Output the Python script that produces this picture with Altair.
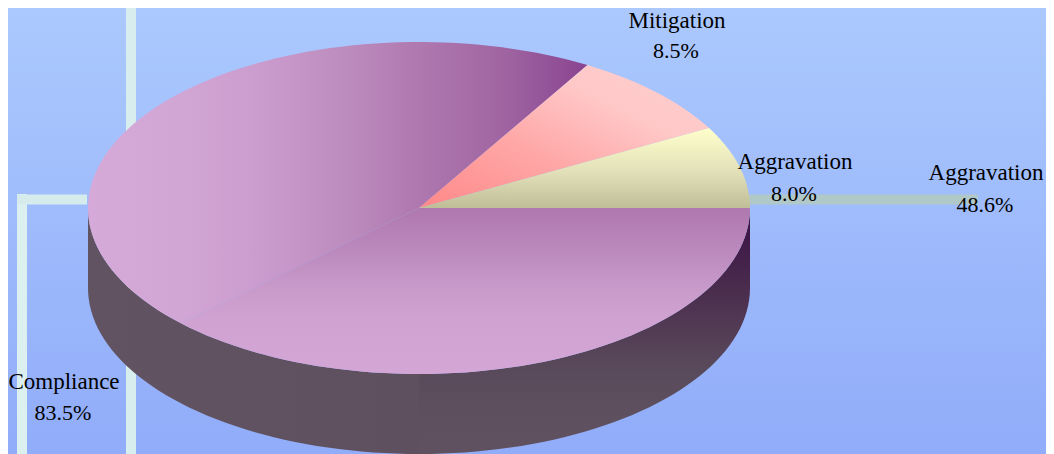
import math
import altair as alt
import pandas as pd

# ---- data ----
slice_names = ["Compliance", "Mitigation", "Aggravation"]
slice_shares = [83.5, 8.5, 8.0]
label_names = ["Mitigation", "Aggravation", "Aggravation", "Compliance"]
label_values = ["8.5%", "8.0%", "48.6%", "83.5%"]
label_x = [677, 795, 986, 64]
label_value_x = [676, 794, 985, 63]
label_name_y = [21, 162, 173, 382]
label_value_y = [51, 194, 205, 413]

# ---- canvas in image pixels ----
W, H = 1046, 454
CX, CY, RX, RY, DEPTH = 419, 208, 331, 166, 80
XS = alt.Scale(domain=[8, W], nice=False, zero=False)
YS = alt.Scale(domain=[H, 8], nice=False, zero=False)
X = alt.X("x:Q", scale=XS, axis=None)
Y = alt.Y("y:Q", scale=YS, axis=None)


def wedge(t1, t2):
    n = max(2, int(abs(t2 - t1) / 2))
    rows = [{"x": CX, "y": CY, "o": 0}]
    for i in range(n + 1):
        t = math.radians(t1 + (t2 - t1) * i / n)
        rows.append({"x": CX + RX * math.cos(t), "y": CY - RY * math.sin(t), "o": i + 1})
    return pd.DataFrame(rows)


def grad(stops, x1=0, y1=0, x2=1, y2=0):
    return alt.Gradient(
        gradient="linear", x1=x1, y1=y1, x2=x2, y2=y2,
        stops=[alt.GradientStop(offset=o, color=c) for o, c in stops],
    )


def poly(df, fill):
    return alt.Chart(df).mark_line(fill=fill, strokeWidth=0, opacity=1, clip=True).encode(
        x=X, y=Y, order="o:Q"
    )


# slice boundaries
a_end = slice_shares[2] * 3.6
m_end = a_end + slice_shares[1] * 3.6
SEAM = 224

# background
bg = alt.Chart(pd.DataFrame({"x": [8], "x2": [W], "y": [8], "y2": [H]})).mark_rect(
    color=grad([(0, "#ABC9FE"), (1, "#91ACF9")], 0, 0, 0, 1)
).encode(x=X, x2="x2:Q", y=Y, y2="y2:Q")

# leader lines
leaders = pd.DataFrame({
    "x": [131, 22, 17, 749],
    "x2": [131, 22, 87, 978],
    "y": [8, 194, 199.5, 199.5],
    "y2": [H, H, 199.5, 199.5],
    "c": ["#D8EEEE", "#DCF0F0", "#D6ECEC", "#B0C8C8"],
})
lead = alt.Chart(leaders).mark_rule(strokeWidth=10, clip=True).encode(
    x=X, x2="x2:Q", y=Y, y2="y2:Q", color=alt.Color("c:N", scale=None)
)

# side wall
ts = list(range(180, 361, 2))
wall = pd.DataFrame({
    "x": [CX + RX * math.cos(math.radians(t)) for t in ts],
    "y": [CY - RY * math.sin(math.radians(t)) for t in ts],
    "y2": [CY - RY * math.sin(math.radians(t)) + DEPTH for t in ts],
})
wall_l = alt.Chart(wall[wall.x <= CX]).mark_area(
    color=grad([(0, "#615361"), (1, "#5E505F")]), clip=True
).encode(x=X, y=Y, y2="y2:Q")
wall_r = alt.Chart(wall[wall.x >= CX - 1]).mark_area(
    color=grad([(0, "#3A1545"), (0.12, "#3F1A48"), (0.4, "#4E3350"), (0.65, "#594A5B"), (0.85, "#5E505F"), (1, "#5F5160")], 0, 0, 0, 1), clip=True
).encode(x=X, y=Y, y2="y2:Q")

# top faces
comp_a = poly(wedge(m_end, SEAM), grad([
    (0, "#D5AAD8"), (0.19, "#D1A5D4"), (0.32, "#CC9ECF"), (0.41, "#C596C7"),
    (0.525, "#BC8BBD"), (0.663, "#AF78AF"), (0.825, "#A066A2"), (1, "#8A4490"),
]))
comp_b = poly(wedge(SEAM, 360), grad([
    (0, "#AF78AF"), (0.25, "#BB89BC"), (0.5, "#C99BCB"), (0.67, "#CFA2D2"), (1, "#D3A6D6"),
], 0, 0, 0, 1))
mitig = poly(wedge(a_end, m_end), grad([
    (0, "#FF8888"), (0.4, "#FFA8A8"), (0.7, "#FFC8C8"), (1, "#FFCECE"),
], 0, 1, 1, 0))
aggr = poly(wedge(0, a_end), grad([
    (0, "#FFFFCC"), (0.55, "#E2E0B8"), (1, "#BFBE98"),
], 0, 0, 0, 1))

# labels
lab = pd.DataFrame({
    "x": label_x, "vx": label_value_x, "n": label_names, "v": label_values,
    "ny": label_name_y, "vy": label_value_y,
})
names = alt.Chart(lab).mark_text(font="Liberation Serif", fontSize=23, color="#000000").encode(
    x=X, y=alt.Y("ny:Q", scale=YS, axis=None), text="n:N"
)
vals = alt.Chart(lab).mark_text(font="Liberation Serif", fontSize=22, color="#000000").encode(
    x=alt.X("vx:Q", scale=XS, axis=None), y=alt.Y("vy:Q", scale=YS, axis=None), text="v:N"
)

chart = alt.layer(bg, lead, wall_l, wall_r, comp_a, comp_b, mitig, aggr, names, vals).properties(
    width=W - 8, height=H - 8, padding=0,
    autosize=alt.AutoSizeParams(type="none"),
    background="#A0BAFB",
).configure_view(strokeWidth=0)

chart.save("out.html", embed_options={"renderer": "svg", "actions": False})
